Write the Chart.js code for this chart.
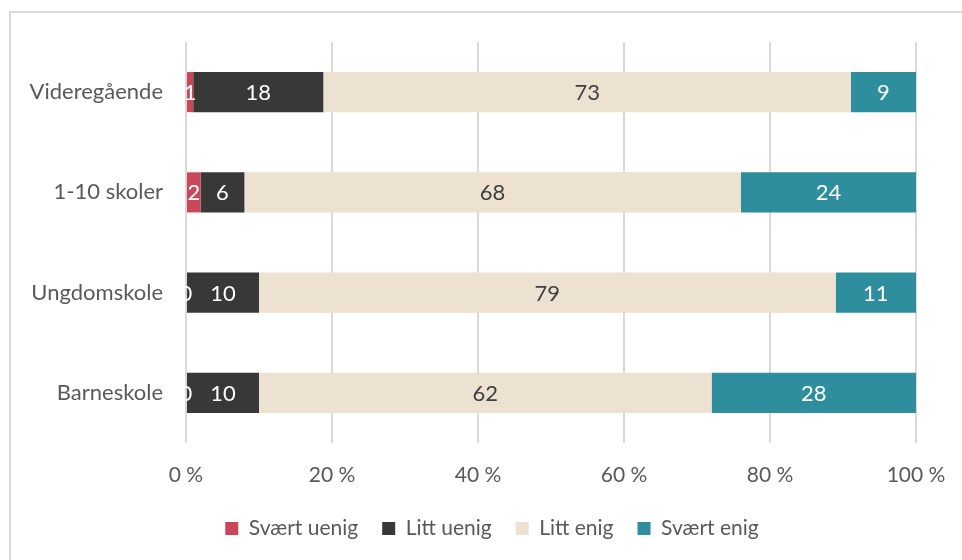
<!DOCTYPE html>
<html>
<head>
<meta charset="utf-8">
<script src="https://cdn.jsdelivr.net/npm/chart.js@4"></script>
<style>
  html, body { margin: 0; padding: 0; background: #fff; }
  #wrap { position: relative; width: 962px; height: 560px; }
</style>
</head>
<body>
<div id="wrap"><canvas id="myChart" width="962" height="560"></canvas></div>
<script>
// answers per school level, raw counts (each row drawn as 100 % stacked bar)
const categories = ['Videregående', '1-10 skoler', 'Ungdomskole', 'Barneskole'];
const seriesNames = ['Svært uenig', 'Litt uenig', 'Litt enig', 'Svært enig'];
const svaertUenig = [1, 2, 0, 0];
const littUenig = [18, 6, 10, 10];
const littEnig = [73, 68, 79, 62];
const svaertEnig = [9, 24, 11, 28];
const xTicks = [0, 20, 40, 60, 80, 100];

const colors = ['#C8485A', '#383838', '#EDE1D2', '#2E8E9E'];
const labelColors = ['#fff', '#fff', '#404040', '#fff'];
const FONT = 'Lato, "Open Sans", sans-serif';

const raw = [svaertUenig, littUenig, littEnig, svaertEnig];
const totals = categories.map((c, i) => raw.reduce((s, arr) => s + arr[i], 0));
const pct = raw.map(arr => arr.map((v, i) => v / totals[i] * 100));

// draws the count inside each segment
const valueLabels = {
  id: 'valueLabels',
  afterDatasetsDraw(chart) {
    const ctx = chart.ctx;
    ctx.save();
    ctx.font = '22px ' + FONT;
    ctx.textAlign = 'center';
    ctx.textBaseline = 'middle';
    chart.data.datasets.forEach((ds, di) => {
      chart.getDatasetMeta(di).data.forEach((bar, i) => {
        ctx.fillStyle = labelColors[di];
        ctx.fillText(String(raw[di][i]), (bar.x + bar.base) / 2, bar.y + 1);
      });
    });
    ctx.restore();
  }
};

// the thin frame at the top and left of the picture
const frame = {
  id: 'frame',
  beforeDraw(chart) {
    const ctx = chart.ctx;
    ctx.save();
    ctx.strokeStyle = '#d9d9d9';
    ctx.lineWidth = 2;
    ctx.beginPath();
    ctx.moveTo(10, 560);
    ctx.lineTo(10, 12);
    ctx.lineTo(962, 12);
    ctx.stroke();
    ctx.restore();
  }
};

// legend sits a bit right of the canvas centre in the original
const legendShift = {
  id: 'legendShift',
  afterLayout(chart) {
    chart.legend.left += 34;
    chart.legend.right += 34;
  }
};

let ctx = document.getElementById('myChart').getContext('2d');
let myChart = new Chart(ctx, {
  type: 'bar',
  data: {
    labels: categories,
    datasets: seriesNames.map((name, i) => ({
      label: name,
      data: pct[i],
      backgroundColor: colors[i],
      borderWidth: 0,
      barPercentage: 0.4,
      categoryPercentage: 1
    }))
  },
  options: {
    indexAxis: 'y',
    responsive: false,
    animation: false,
    layout: { padding: { top: 42, right: 46, left: 0, bottom: 11 } },
    scales: {
      x: {
        stacked: true,
        min: 0,
        max: 100,
        afterBuildTicks(scale) { scale.ticks = xTicks.map(v => ({ value: v })); },
        afterFit(scale) {
          scale.height = 51;
          scale.paddingLeft = 0;
          scale.paddingRight = 0;
        },
        grid: { color: '#d9d9d9', lineWidth: 2, drawTicks: false },
        border: { display: false },
        ticks: {
          padding: 20,
          color: '#595959',
          font: { family: FONT, size: 21 },
          callback: v => v + ' %'
        }
      },
      y: {
        stacked: true,
        afterFit(scale) { scale.width = 186; },
        grid: { display: false },
        border: { display: false },
        ticks: {
          padding: 15,
          color: '#595959',
          font: { family: FONT, size: 22 }
        }
      }
    },
    plugins: {
      legend: {
        position: 'bottom',
        labels: {
          boxWidth: 13,
          boxHeight: 13,
          padding: 24,
          color: '#595959',
          font: { family: FONT, size: 21 }
        }
      },
      tooltip: { enabled: false }
    }
  },
  plugins: [frame, valueLabels, legendShift]
});
</script>
</body>
</html>
